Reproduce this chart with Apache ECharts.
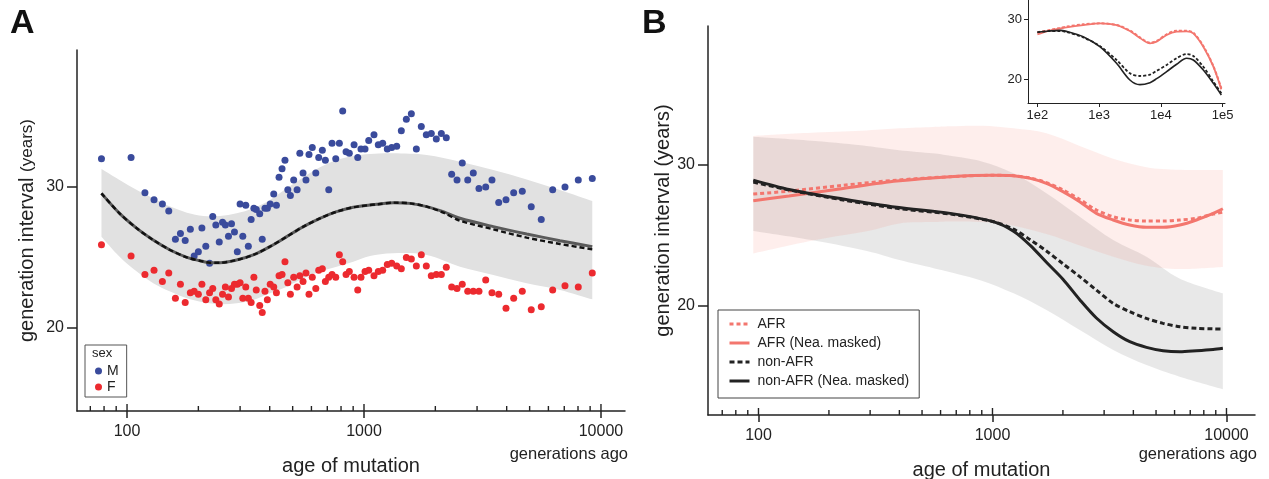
<!DOCTYPE html>
<html><head><meta charset="utf-8">
<script src="https://cdn.jsdelivr.net/npm/echarts@6/dist/echarts.min.js"></script>
<style>html,body{margin:0;padding:0;background:#fff}#c{width:1269px;height:479px}</style>
</head><body><div id="c"></div>
<script>
// ================= Panel A data =================
const binGenerations = [78,104,119,130,141,150,160,168,176,185,
 192,200,207,215,223,230,237,245,253,260,
 268,276,284,292,300,308,317,325,334,343,
 351,363,372,382,391,402,416,427,438,451,
 464,477,489,505,522,536,553,569,586,605,
 626,644,667,687,710,733,760,787,813,840,
 867,908,941,971,1010,1047,1102,1149,1199,1254,
 1309,1374,1437,1509,1584,1663,1745,1832,1923,2019,
 2120,2225,2344,2469,2598,2740,2892,3056,3263,3468,
 3702,3974,4282,4655,5079,5598,6255,7050,8021,9190];
const maleInterval = [32.0,32.1,29.6,29.1,28.8,28.3,26.3,26.7,26.2,27.0,
 25.1,25.4,27.1,25.8,24.6,27.9,27.3,26.1,27.5,27.3,
 26.5,27.4,26.8,25.4,28.8,26.5,28.7,25.8,27.7,28.5,
 28.4,28.1,26.3,28.5,28.5,28.8,29.5,28.7,30.7,31.3,
 31.9,29.8,29.4,30.5,29.8,32.4,31.0,30.5,32.3,32.8,
 31.0,32.1,32.6,31.9,29.8,33.1,32.0,33.1,35.4,32.5,
 32.4,33.0,32.1,32.7,32.7,33.3,33.7,33.0,33.1,32.7,
 32.8,32.9,34.0,34.8,35.2,32.7,34.3,33.7,33.8,33.4,
 33.8,33.5,30.9,30.5,31.7,30.5,31.0,29.9,30.0,30.5,
 28.9,29.1,29.6,29.7,28.6,27.7,29.8,30.0,30.5,30.6];
const femaleInterval = [25.9,25.1,23.8,24.1,23.3,23.9,22.1,23.1,21.8,22.5,
 22.6,22.4,23.1,22.0,22.5,22.8,22.0,21.7,22.4,22.9,
 22.2,22.8,23.1,23.1,23.2,22.1,22.9,22.1,21.8,23.6,
 22.7,21.6,21.1,22.6,22.0,23.1,22.9,22.5,23.7,23.8,
 24.7,23.2,22.4,23.6,22.9,23.7,23.3,23.9,22.4,23.6,
 22.8,24.1,24.2,23.3,23.6,23.8,23.6,25.2,24.7,23.8,
 24.0,23.6,22.7,23.6,24.0,24.1,23.7,24.0,24.1,24.5,
 24.6,24.4,24.2,25.0,24.9,24.4,25.2,24.4,23.7,23.8,
 23.8,24.3,22.9,22.8,23.1,22.6,22.6,22.6,23.4,22.5,
 22.4,21.4,22.1,22.6,21.3,21.5,22.7,23.0,22.9,23.9];
const fitGenerations = [78,93,110,129,152,179,210,224,247,290,341,401,472,555,652,767,901,1060,1131,1329,1564,1840,2161,2542,3513,4858,6714,9190];
const fitSolid  = [29.55,28.13,27.07,26.24,25.53,25.01,24.71,24.63,24.63,24.82,25.18,25.77,26.48,27.19,27.78,28.25,28.56,28.72,28.77,28.89,28.84,28.61,28.25,27.78,27.19,26.67,26.19,25.77];
const fitDashed = [29.55,28.13,27.07,26.24,25.53,25.01,24.71,24.63,24.63,24.82,25.18,25.77,26.48,27.19,27.78,28.25,28.56,28.72,28.77,28.89,28.84,28.61,28.18,27.61,27.00,26.41,25.96,25.58];
const bandAGenerations = [78,93,110,129,152,179,210,247,290,341,401,472,555,652,767,901,1060,1329,1840,2542,3513,4858,6714,9190];
const bandAUpper = [31.28,30.50,29.79,29.20,28.61,28.18,27.94,27.94,28.13,28.49,29.08,29.91,30.69,31.40,31.92,32.20,32.34,32.39,32.27,31.80,31.21,30.54,29.79,29.01];
const bandALower = [26.48,25.06,24.00,23.17,22.58,22.10,21.82,21.68,21.75,21.99,22.46,22.93,23.52,24.00,24.35,24.70,25.10,25.30,25.18,24.35,23.76,23.17,22.70,22.03];

// ================= Panel B data =================
const bGenerations = [95,135,230,390,660,1000,1230,1450,1700,2000,2360,2780,3280,3860,4550,5360,6320,7440,8770,9650];
const afr          = [27.94,28.15,28.56,28.93,29.17,29.27,29.24,29.08,28.75,28.23,27.56,26.81,26.33,26.10,26.03,26.03,26.10,26.22,26.52,26.65];
const afrMasked    = [27.47,27.80,28.34,28.86,29.17,29.27,29.24,29.05,28.70,28.11,27.40,26.57,26.10,25.74,25.58,25.58,25.74,26.10,26.57,26.90];
const nonAfr       = [28.79,28.23,27.52,26.93,26.52,26.00,25.45,24.70,23.90,23.00,22.08,21.13,20.19,19.60,19.12,18.77,18.53,18.42,18.38,18.37];
const nonAfrMasked = [28.93,28.27,27.59,27.00,26.57,26.00,25.30,24.30,23.10,21.90,20.45,19.15,18.18,17.47,17.07,16.83,16.76,16.83,16.92,17.00];
const bBandGenerations = [95,175,290,400,555,660,900,1230,1700,2360,3280,4550,6300,9650];
const afrUpper    = [32.06,32.30,32.45,32.60,32.70,32.75,32.78,32.60,32.25,31.35,30.45,29.85,29.66,29.64];
const afrLower    = [23.73,24.68,25.30,25.86,25.95,26.00,25.95,25.70,25.10,24.30,23.50,22.85,22.62,22.77];
const nonAfrUpper = [32.00,31.70,31.35,31.05,30.83,30.65,30.25,29.41,27.99,26.33,24.68,23.50,21.96,20.90];
const nonAfrLower = [25.32,24.63,23.90,23.26,22.70,22.40,21.80,20.90,19.72,18.30,16.88,15.81,14.99,14.10];

// ================= Inset data =================
const insetGenerations = [100,158,230,295,550,1025,1910,3143,4563,6637,8510,12360,17950,26070,33420,48530,70580,95000];
const insetAfr          = [27.79,28.17,28.50,28.73,29.11,29.28,29.00,28.10,26.95,26.07,26.35,27.46,28.06,28.06,27.73,25.52,22.20,18.50];
const insetAfrMasked    = [27.46,28.06,28.40,28.62,29.00,29.28,29.00,28.00,26.85,25.96,26.24,27.35,27.90,27.95,27.62,25.41,22.09,18.33];
const insetNonAfr       = [27.79,28.01,28.01,27.84,26.96,25.52,23.20,20.99,20.55,20.77,21.40,22.37,23.50,24.19,23.86,22.09,19.61,17.67];
const insetNonAfrMasked = [27.79,28.01,28.12,27.95,27.07,25.41,22.65,19.88,19.11,19.44,20.10,21.27,22.50,23.48,23.20,21.54,19.33,17.40];

// ================= Ticks / labels =================
const mainTicks = [100,1000,10000];
const mainTickLabels = ['100','1000','10000'];
const minorTicks = [70,80,90,200,300,400,500,600,700,800,900,2000,3000,4000,5000,6000,7000,8000,9000];
const yTicks = [20,30];
const yTickLabels = ['20','30'];
const insetTicks = [100,1000,10000,100000];
const insetTickLabels = ['1e2','1e3','1e4','1e5'];

// ================= Styling =================
const FONT = '"Liberation Sans", Arial, Helvetica, sans-serif';
const ink = '#222';
const salmon = '#f3766e';
const maleColor = '#3a4b9c';
const femaleColor = '#ec2a2f';

const pairs = (xs, ys) => xs.map((x, i) => [x, ys[i]]);
const labelFor = (ticks, labels) => v => {
  const i = ticks.findIndex(t => Math.abs(Math.log10(t) - Math.log10(v)) < 1e-6);
  return i >= 0 ? labels[i] : '';
};
const labelForLin = (ticks, labels) => v => {
  const i = ticks.findIndex(t => Math.abs(t - v) < 1e-6);
  return i >= 0 ? labels[i] : '';
};

// axis ranges (chosen to match the reference frame)
const A = {xMin: 61.5, xMax: 12630, yMin: 14.11, yMax: 39.72};
const B = {xMin: 60.85, xMax: 13240, yMin: 12.27, yMax: 39.86};
const I = {xMin: 70.4, xMax: 108900, yMin: 16.07, yMax: 33.15};

// smooth path through pixel points (Catmull-Rom -> cubic Bezier)
function smoothSegs(pts) {
  let d = '';
  const t = 1 / 6;
  for (let i = 0; i < pts.length - 1; i++) {
    const p0 = pts[Math.max(i - 1, 0)], p1 = pts[i], p2 = pts[i + 1], p3 = pts[Math.min(i + 2, pts.length - 1)];
    const c1 = [p1[0] + (p2[0] - p0[0]) * t, p1[1] + (p2[1] - p0[1]) * t];
    const c2 = [p2[0] - (p3[0] - p1[0]) * t, p2[1] - (p3[1] - p1[1]) * t];
    d += ' C' + c1[0] + ',' + c1[1] + ' ' + c2[0] + ',' + c2[1] + ' ' + p2[0] + ',' + p2[1];
  }
  return d;
}
function bandSeries(xi, yi, xs, lo, hi, color, z) {
  return {type:'custom', xAxisIndex:xi, yAxisIndex:yi, data:pairs(xs, hi), encode:{x:0, y:1},
    silent:true, z, clip:false,
    renderItem(params, api) {
      if (params.dataIndex !== 0) return null;
      const top = xs.map((x, i) => api.coord([x, hi[i]]));
      const bot = xs.map((x, i) => api.coord([x, lo[i]])).reverse();
      const d = 'M' + top[0][0] + ',' + top[0][1] + smoothSegs(top) +
                ' L' + bot[0][0] + ',' + bot[0][1] + smoothSegs(bot) + ' Z';
      return {type:'path', shape:{pathData:d}, style:{fill:color, stroke:null}};
    }};
}
function tickMarks(xi, yi, values, yAt, len) {
  return {type:'scatter', xAxisIndex:xi, yAxisIndex:yi, data: values.map(v => [v, yAt]), symbol:'rect',
    symbolSize:[1.4, len], symbolOffset:[0, -len/2], itemStyle:{color:ink, opacity:1}, silent:true, clip:false, z:20};
}
function mainXAxis(gi, r) {
  return {gridIndex:gi, type:'log', logBase:10, min:r.xMin, max:r.xMax,
    axisLine:{show:true, onZero:false, lineStyle:{color:ink, width:1.5}},
    axisTick:{show:true, customValues:mainTicks, length:7, lineStyle:{color:ink, width:1.5}},
    axisLabel:{show:true, customValues:mainTicks, formatter:labelFor(mainTicks, mainTickLabels), fontSize:16, color:ink, fontFamily:FONT, margin:13},
    splitLine:{show:false}, minorTick:{show:false}, minorSplitLine:{show:false},
    name:'age of mutation', nameLocation:'middle', nameGap:45,
    nameTextStyle:{fontSize:20, color:ink, fontFamily:FONT}};
}
function mainYAxis(gi, r, name, nameGap, rich) {
  const ax = {gridIndex:gi, type:'value', min:r.yMin, max:r.yMax,
    axisLine:{show:true, onZero:false, lineStyle:{color:ink, width:1.5}},
    axisTick:{show:true, customValues:yTicks, length:10, lineStyle:{color:ink, width:1.5}},
    axisLabel:{show:true, customValues:yTicks, formatter:labelForLin(yTicks, yTickLabels), fontSize:16, color:ink, fontFamily:FONT, margin:13},
    splitLine:{show:false},
    name, nameLocation:'middle', nameRotate:90, nameGap,
    nameTextStyle:{fontSize:20, color:ink, fontFamily:FONT}};
  if (rich) ax.nameTextStyle.rich = rich;
  return ax;
}

const series = [
  // ---- Panel A ----
  bandSeries(0, 0, bandAGenerations, bandALower, bandAUpper, '#e1e1e1', 1),
  {name:'M', type:'scatter', xAxisIndex:0, yAxisIndex:0, data:pairs(binGenerations, maleInterval), symbol:'circle', symbolSize:7, itemStyle:{color:maleColor, opacity:1}, z:3},
  {name:'F', type:'scatter', xAxisIndex:0, yAxisIndex:0, data:pairs(binGenerations, femaleInterval), symbol:'circle', symbolSize:7, itemStyle:{color:femaleColor, opacity:1}, z:3},
  {type:'line', xAxisIndex:0, yAxisIndex:0, data:pairs(fitGenerations, fitSolid), symbol:'none', smooth:0.3, lineStyle:{color:'#5a5a5a', width:3}, z:4},
  {type:'line', xAxisIndex:0, yAxisIndex:0, data:pairs(fitGenerations, fitDashed), symbol:'none', smooth:0.3, lineStyle:{color:'#111', width:2.4, type:[5,3]}, z:5},
  tickMarks(0, 0, minorTicks, A.yMin, 5),
  tickMarks(0, 0, mainTicks, A.yMin, 7),
  // ---- Panel B ----
  bandSeries(1, 1, bBandGenerations, nonAfrLower, nonAfrUpper, 'rgba(0,0,0,0.09)', 1),
  bandSeries(1, 1, bBandGenerations, afrLower, afrUpper, 'rgba(246,112,102,0.12)', 2),
  {name:'AFR', type:'line', xAxisIndex:1, yAxisIndex:1, data:pairs(bGenerations, afr), symbol:'none', smooth:0.3, lineStyle:{color:salmon, width:3, type:[4,3]}, itemStyle:{color:salmon}, z:4},
  {name:'AFR (Nea. masked)', type:'line', xAxisIndex:1, yAxisIndex:1, data:pairs(bGenerations, afrMasked), symbol:'none', smooth:0.3, lineStyle:{color:salmon, width:3}, itemStyle:{color:salmon}, z:4},
  {name:'non-AFR', type:'line', xAxisIndex:1, yAxisIndex:1, data:pairs(bGenerations, nonAfr), symbol:'none', smooth:0.3, lineStyle:{color:'#222', width:3, type:[5,3]}, itemStyle:{color:'#222'}, z:4},
  {name:'non-AFR (Nea. masked)', type:'line', xAxisIndex:1, yAxisIndex:1, data:pairs(bGenerations, nonAfrMasked), symbol:'none', smooth:0.3, lineStyle:{color:'#222', width:3}, itemStyle:{color:'#222'}, z:4},
  tickMarks(1, 1, minorTicks, B.yMin, 5),
  tickMarks(1, 1, mainTicks, B.yMin, 7),
  // ---- Inset ----
  {type:'line', xAxisIndex:2, yAxisIndex:2, data:pairs(insetGenerations, insetAfr), symbol:'none', smooth:0.3, lineStyle:{color:salmon, width:2, type:[3,2]}, z:4},
  {type:'line', xAxisIndex:2, yAxisIndex:2, data:pairs(insetGenerations, insetAfrMasked), symbol:'none', smooth:0.3, lineStyle:{color:salmon, width:1.8}, z:4},
  {type:'line', xAxisIndex:2, yAxisIndex:2, data:pairs(insetGenerations, insetNonAfr), symbol:'none', smooth:0.3, lineStyle:{color:'#222', width:1.8, type:[3,2]}, z:4},
  {type:'line', xAxisIndex:2, yAxisIndex:2, data:pairs(insetGenerations, insetNonAfrMasked), symbol:'none', smooth:0.3, lineStyle:{color:'#222', width:1.6}, z:4}
];

const option = {
  animation:false,
  backgroundColor:'#fff',
  textStyle:{fontFamily:FONT},
  grid:[
    {left:77, top:50, width:548, height:361, containLabel:false, outerBoundsMode:'none'},
    {left:708, top:26, width:547, height:389, containLabel:false, outerBoundsMode:'none'},
    {left:1028, top:0, width:197, height:103, containLabel:false, outerBoundsMode:'none'}
  ],
  xAxis:[
    mainXAxis(0, A),
    mainXAxis(1, B),
    {gridIndex:2, type:'log', logBase:10, min:I.xMin, max:I.xMax,
     axisLine:{show:true, onZero:false, lineStyle:{color:ink, width:1}},
     axisTick:{show:true, customValues:insetTicks, length:4, lineStyle:{color:ink, width:1}},
     axisLabel:{show:true, customValues:insetTicks, formatter:labelFor(insetTicks, insetTickLabels), fontSize:13, color:ink, fontFamily:FONT, margin:6},
     splitLine:{show:false}}
  ],
  yAxis:[
    mainYAxis(0, A, '{a|generation interval }{b|(years)}', 40,
      {a:{fontSize:20, color:ink, fontFamily:FONT}, b:{fontSize:17, color:ink, fontFamily:FONT}}),
    mainYAxis(1, B, 'generation interval (years)', 35),
    {gridIndex:2, type:'value', min:I.yMin, max:I.yMax,
     axisLine:{show:true, onZero:false, lineStyle:{color:ink, width:1}},
     axisTick:{show:true, customValues:yTicks, length:4, lineStyle:{color:ink, width:1}},
     axisLabel:{show:true, customValues:yTicks, formatter:labelForLin(yTicks, yTickLabels), fontSize:13, color:ink, fontFamily:FONT, margin:6},
     splitLine:{show:false}}
  ],
  legend:[
    {data:['M','F'], left:85, top:345, orient:'vertical', icon:'circle', itemWidth:7, itemHeight:7, itemGap:2,
     padding:[19,8,3,10], borderColor:'#555', borderWidth:1, selectedMode:false,
     textStyle:{fontSize:14, color:ink, fontFamily:FONT}},
    {data:['AFR','AFR (Nea. masked)','non-AFR','non-AFR (Nea. masked)'], left:718, top:310, orient:'vertical',
     itemWidth:20, itemHeight:10, itemGap:5, padding:[7,10,10,10], borderColor:'#444', borderWidth:1, selectedMode:false,
     itemStyle:{opacity:0, borderWidth:0},
     lineStyle:{width:3},
     textStyle:{fontSize:14, color:ink, fontFamily:FONT, padding:[0,0,0,3]}}
  ],
  graphic:[
    {type:'text', left:10, top:7, style:{text:'A', fontSize:34, fontWeight:'bold', fill:'#111', fontFamily:FONT}},
    {type:'text', left:642, top:7, style:{text:'B', fontSize:34, fontWeight:'bold', fill:'#111', fontFamily:FONT}},
    {type:'text', left:92, top:347, style:{text:'sex', fontSize:13, fill:ink, fontFamily:FONT}},
    {type:'text', right:1269-628, top:446, style:{text:'generations ago', fontSize:16.5, fill:ink, fontFamily:FONT}},
    {type:'text', right:1269-1257, top:446, style:{text:'generations ago', fontSize:16.5, fill:ink, fontFamily:FONT}}
  ],
  series
};

const chart = echarts.init(document.getElementById('c'), null, {renderer:'canvas'});
chart.setOption(option);
</script>
</body></html>
